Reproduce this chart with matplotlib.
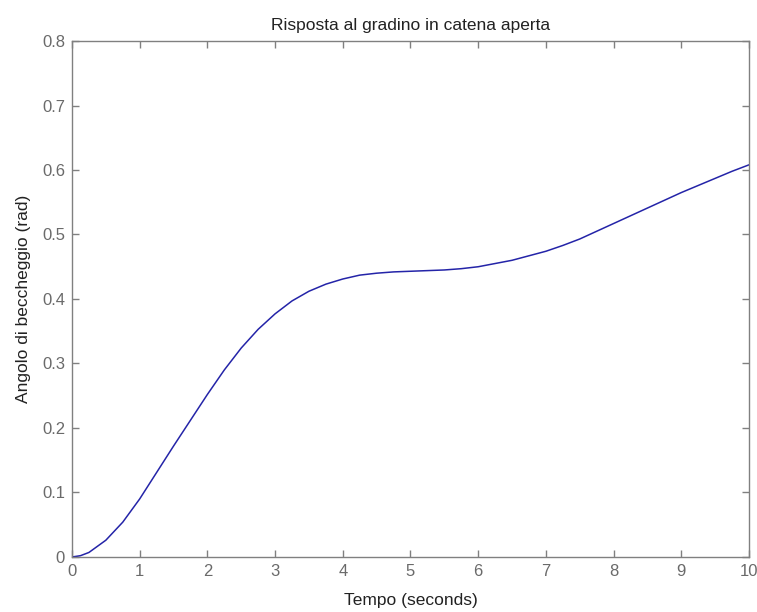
import matplotlib
matplotlib.use('Agg')
import matplotlib.pyplot as plt

# open-loop step response of the pitch angle
tempo = [0, 0.125, 0.25, 0.5, 0.75, 1.0, 1.25, 1.5, 1.75, 2.0, 2.25, 2.5,
         2.75, 3.0, 3.25, 3.5, 3.75, 4.0, 4.25, 4.5, 4.75, 5.0, 5.25, 5.5,
         5.75, 6.0, 6.25, 6.5, 6.75, 7.0, 7.25, 7.5, 7.75, 8.0, 8.25, 8.5,
         8.75, 9.0, 9.25, 9.5, 9.75, 10.0]
angolo = [0, 0.002, 0.007, 0.026, 0.054, 0.090, 0.131, 0.172, 0.212, 0.252,
          0.290, 0.324, 0.353, 0.377, 0.397, 0.412, 0.423, 0.431, 0.437,
          0.440, 0.442, 0.443, 0.444, 0.445, 0.447, 0.450, 0.455, 0.460,
          0.467, 0.474, 0.483, 0.493, 0.505, 0.517, 0.529, 0.541, 0.553,
          0.565, 0.576, 0.587, 0.598, 0.608]

x_ticks = list(range(0, 11))
y_ticks = [0, 0.1, 0.2, 0.3, 0.4, 0.5, 0.6, 0.7, 0.8]
y_tick_labels = ['0', '0.1', '0.2', '0.3', '0.4', '0.5', '0.6', '0.7', '0.8']

plt.rcParams['font.family'] = ['Liberation Sans', 'DejaVu Sans']

fig = plt.figure(figsize=(7.57, 6.12), dpi=100)
ax = fig.add_axes([0.0951, 0.0899, 0.8943, 0.8431])

ax.plot(tempo, angolo, color='#2424a8', linewidth=1.1)

ax.set_xlim(0, 10)
ax.set_ylim(0, 0.8)
ax.set_xticks(x_ticks)
ax.set_yticks(y_ticks)
ax.set_yticklabels(y_tick_labels)

for side in ax.spines.values():
    side.set_color('#808080')
    side.set_linewidth(1.0)

ax.tick_params(direction='in', length=5, width=1, colors='#808080',
               labelcolor='#6a6a6a', labelsize=12, top=True, right=True,
               pad=5)

ax.set_title('Risposta al gradino in catena aperta', fontsize=12.5,
             color='#222222', pad=8)
ax.set_xlabel('Tempo (seconds)', fontsize=12.5, color='#222222', labelpad=10)
ax.set_ylabel('Angolo di beccheggio (rad)', fontsize=12.5, color='#222222',
              labelpad=8)

fig.savefig('out.png', dpi=100)
